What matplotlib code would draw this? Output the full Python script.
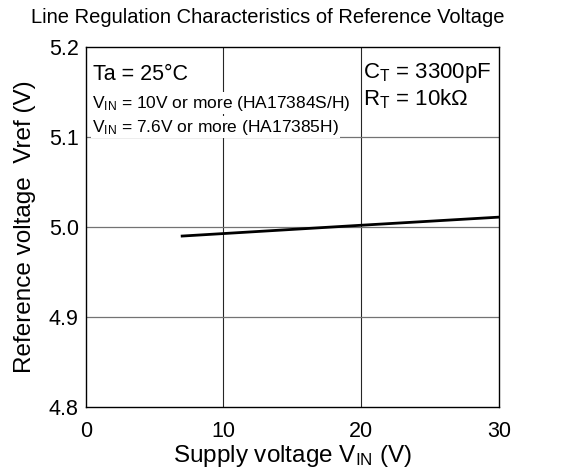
import numpy as np
import matplotlib.pyplot as plt

plt.rcParams['font.family'] = ['Liberation Sans', 'DejaVu Sans']
plt.rcParams['mathtext.fontset'] = 'custom'
plt.rcParams['mathtext.rm'] = 'Liberation Sans'
plt.rcParams['mathtext.it'] = 'Liberation Sans'

# supply voltage (V) vs reference voltage (V)
vin = [7, 20, 30]
vref = [4.990, 5.002, 5.011]

xticks = [0, 10, 20, 30]
yticks = [4.8, 4.9, 5.0, 5.1, 5.2]

fig = plt.figure(figsize=(5.72, 4.75), dpi=100)
ax = fig.add_axes([0.150, 0.143, 0.722, 0.758])

ax.set_xlim(0, 30)
ax.set_ylim(4.8, 5.2)
ax.set_xticks(xticks)
ax.set_yticks(yticks)
ax.set_yticklabels(['4.8', '4.9', '5.0', '5.1', '5.2'])
ax.tick_params(length=0, labelsize=15.5)
ax.tick_params(axis='x', pad=10)
ax.tick_params(axis='y', pad=5)

for x in xticks[1:-1]:
    ax.axvline(x, color='0.15', lw=0.8, zorder=1)
for y in yticks[1:-1]:
    ax.axhline(y, color='0.45', lw=0.9, zorder=1)
for s in ax.spines.values():
    s.set_linewidth(1.0)

ax.plot(vin, vref, color='black', lw=2, zorder=3)

fig.text(0.468, 0.952, 'Line Regulation Characteristics of Reference Voltage',
         fontsize=14.5, ha='center', va='baseline')
ax.set_xlabel('Supply voltage V$_{\\mathrm{IN}}$ (V)', fontsize=17.5, labelpad=1)
ax.set_ylabel('Reference voltage  Vref (V)', fontsize=17.5, labelpad=9)

box = dict(facecolor='white', edgecolor='none', pad=1)
ax.text(0.017, 0.908, 'Ta = 25°C', transform=ax.transAxes, fontsize=15.5,
        va='baseline', ha='left', bbox=box, zorder=2)
ax.text(0.015, 0.831, 'V$_{\\mathrm{IN}}$ = 10V or more (HA17384S/H)', transform=ax.transAxes,
        fontsize=12.5, va='baseline', ha='left', bbox=box, zorder=2)
ax.text(0.015, 0.765, 'V$_{\\mathrm{IN}}$ = 7.6V or more (HA17385H)', transform=ax.transAxes,
        fontsize=12.5, va='baseline', ha='left', bbox=box, zorder=2)
ax.text(0.671, 0.913, 'C$_{\\mathrm{T}}$ = 3300pF', transform=ax.transAxes, fontsize=16,
        va='baseline', ha='left', zorder=2)
ax.text(0.671, 0.839, 'R$_{\\mathrm{T}}$ = 10k\u03a9', transform=ax.transAxes, fontsize=16,
        va='baseline', ha='left', zorder=2)

fig.savefig('out.png', dpi=100)
